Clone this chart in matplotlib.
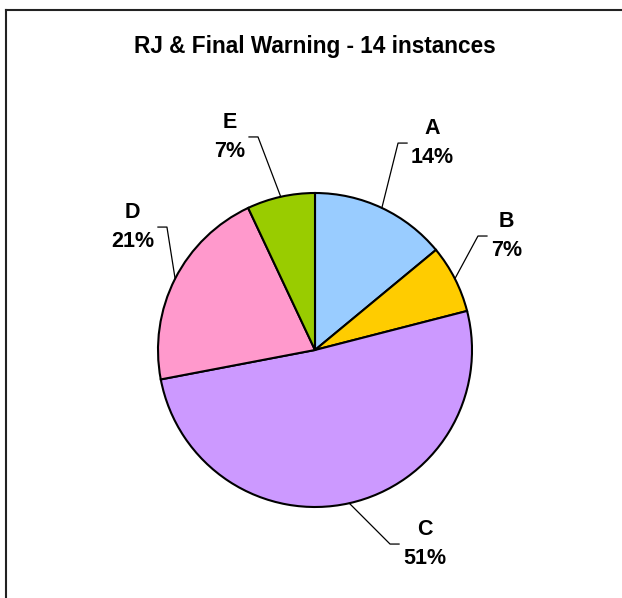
import numpy as np
import matplotlib.pyplot as plt
from matplotlib.lines import Line2D

# dados do gráfico (percentuais)
categorias = ['A', 'B', 'C', 'D', 'E']
percentuais = [14, 7, 51, 21, 7]
cores = ['#99CCFF', '#FFCC00', '#CC99FF', '#FF99CC', '#99CC00']
titulo = 'RJ & Final Warning - 14 instances'

# posição do cotovelo da linha de chamada (em raios, relativo ao centro) e lado do texto
cotovelos = [(0.529, 1.318), (1.038, 0.726), (0.478, -1.236), (-0.943, 0.783), (-0.363, 1.357)]
lados = [1, 1, 1, -1, -1]

plt.rcParams['font.family'] = ['Liberation Sans', 'DejaVu Sans']

W, H = 622, 598
fig = plt.figure(figsize=(W / 100, H / 100), dpi=100)

# moldura (apenas esquerda e topo visíveis)
fig.add_artist(Line2D([5.5 / W, 5.5 / W], [0, 1 - 9.5 / H], color='#222222', lw=1.5))
fig.add_artist(Line2D([5.5 / W, 1], [1 - 9.5 / H, 1 - 9.5 / H], color='#222222', lw=1.5))

fig.text(315 / W, 1 - 46 / H, titulo, ha='center', va='center',
         fontsize=16.3, fontweight='bold')

cx, cy, r = 315, 350, 157
ax = fig.add_axes([(cx - r) / W, (H - cy - r) / H, 2 * r / W, 2 * r / H])
wedges, _ = ax.pie(percentuais, colors=cores, startangle=90, counterclock=False,
                   radius=1, wedgeprops=dict(edgecolor='black', linewidth=1.5))
ax.set_xlim(-1, 1)
ax.set_ylim(-1, 1)
ax.axis('off')

seg = 9 / r    # comprimento do trecho horizontal
gap = 4 / r
for w, cat, p, (ex, ey), lado in zip(wedges, categorias, percentuais, cotovelos, lados):
    ang = np.deg2rad((w.theta1 + w.theta2) / 2)
    px, py = np.cos(ang), np.sin(ang)
    fx = ex + lado * seg
    ax.plot([px, ex, fx], [py, ey, ey], color='black', lw=0.9, clip_on=False)
    ax.text(fx + lado * gap, ey, f'{cat}\n{p}%', ha='left' if lado > 0 else 'right',
            va='center', multialignment='center', fontsize=15.5, fontweight='bold',
            linespacing=1.45)

fig.savefig('out.png', dpi=100)
